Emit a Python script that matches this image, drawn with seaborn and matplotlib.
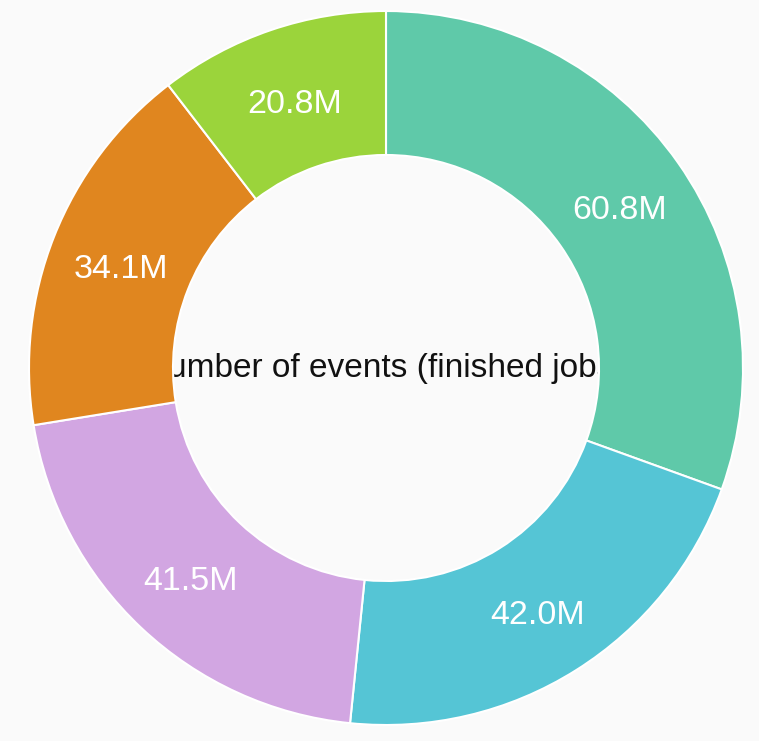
import matplotlib
matplotlib.use("Agg")
import matplotlib.pyplot as plt
import seaborn as sns
import numpy as np

# Data
categories = ["A", "B", "C", "D", "E"]
values = [60.8, 42.0, 41.5, 34.1, 20.8]
labels = ["60.8M", "42.0M", "41.5M", "34.1M", "20.8M"]
colors = ["#5fc9a9", "#55c5d5", "#d2a6e2", "#e0861f", "#9bd43b"]
center_title = "Number of events (finished jobs)"

sns.set_theme(style="white")
plt.rcParams["font.family"] = ["Liberation Sans", "DejaVu Sans"]

W, H = 759, 741
fig = plt.figure(figsize=(W / 100, H / 100), dpi=100)
fig.patch.set_facecolor("#fafafa")
ax = fig.add_axes([0, 0, 1, 1])
ax.set_facecolor("#fafafa")

cx, cy = 386, H - 368
R_out, R_in = 357, 213

# Center text drawn below the ring so the ring hides the overflow
ax.text(cx - 2, cy - 1, center_title, ha="center", va="center",
        fontsize=24, color="#111111", zorder=0)

wedges, _ = ax.pie(values, colors=sns.color_palette(colors), startangle=90,
                   counterclock=False, center=(cx, cy), radius=R_out,
                   wedgeprops=dict(width=R_out - R_in, edgecolor="white",
                                   linewidth=1.5, zorder=2))

total = sum(values)
ang = 90.0
r_lab = (R_out + R_in) / 2
for v, lab in zip(values, labels):
    mid = ang - v / total * 360 / 2
    ang -= v / total * 360
    x = cx + r_lab * np.cos(np.radians(mid))
    y = cy + r_lab * np.sin(np.radians(mid)) - 6
    ax.text(x, y, lab, ha="center", va="center", fontsize=24.5,
            color="white", zorder=3)

ax.set_xlim(0, W)
ax.set_ylim(0, H)
ax.set_aspect("auto")
ax.axis("off")

fig.savefig("out.png", dpi=100, facecolor=fig.get_facecolor())
